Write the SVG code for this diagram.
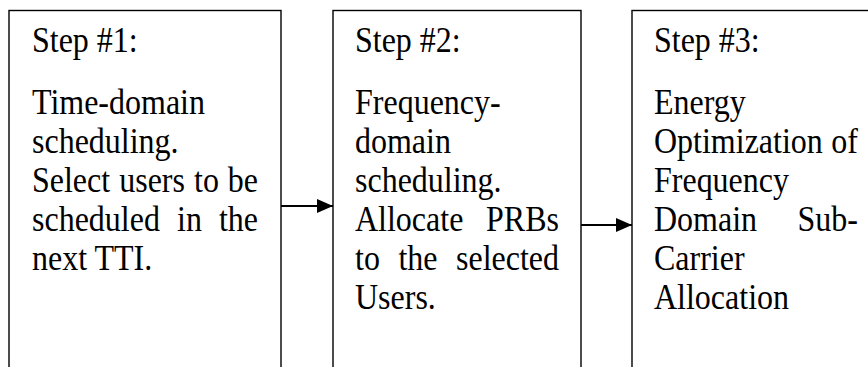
<svg xmlns="http://www.w3.org/2000/svg" width="868" height="367" viewBox="0 0 868 367">
  <style>
    .box { fill: #ffffff; stroke: #000000; stroke-width: 1.4; }
    .t { font-family: "Liberation Serif", "Times New Roman", serif; font-size: 32px; fill: #000000; }
    .e { text-anchor: end; }
    .m { text-anchor: middle; }
    .conn { stroke: #000000; stroke-width: 2; fill: none; }
  </style>
  <defs>
    <marker id="arrowhead" markerUnits="userSpaceOnUse" markerWidth="16" markerHeight="14" refX="16" refY="7" orient="auto">
      <path d="M0,0 L16,7 L0,14 Z" fill="#000000"/>
    </marker>
  </defs>
  <rect width="868" height="367" fill="#ffffff"/>

  <!-- Text is set slightly condensed-tall: y values are baselines divided by 1.1 -->

  <!-- Step 1: time-domain scheduling -->
  <g id="step1">
    <rect class="box" x="9" y="10.5" width="272" height="400"/>
    <g transform="scale(1,1.1)">
      <text class="t" x="32" y="47.27">Step #1:</text>
      <text class="t" x="32" y="103.64">Time-domain</text>
      <text class="t" x="32" y="139.09">scheduling.</text>
      <text class="t" x="32" y="174.55">Select</text>
      <text class="t" x="119.2" y="174.55">users</text>
      <text class="t" x="194" y="174.55">to</text>
      <text class="t e" x="258" y="174.55">be</text>
      <text class="t" x="32" y="210">scheduled</text>
      <text class="t m" x="189.5" y="210">in</text>
      <text class="t e" x="258" y="210">the</text>
      <text class="t" x="32" y="245.45">next TTI.</text>
    </g>
  </g>

  <!-- Step 2: frequency-domain scheduling -->
  <g id="step2">
    <rect class="box" x="333" y="10.5" width="248" height="400"/>
    <g transform="scale(1,1.1)">
      <text class="t" x="355" y="47.27">Step #2:</text>
      <text class="t" x="355" y="103.64">Frequency-</text>
      <text class="t" x="355" y="139.09">domain</text>
      <text class="t" x="355" y="174.55">scheduling.</text>
      <text class="t" x="355" y="210">Allocate</text>
      <text class="t e" x="559" y="210">PRBs</text>
      <text class="t" x="355" y="245.45">to</text>
      <text class="t m" x="418" y="245.45">the</text>
      <text class="t e" x="559" y="245.45">selected</text>
      <text class="t" x="355" y="280.91">Users.</text>
    </g>
  </g>

  <!-- Step 3: energy optimization -->
  <g id="step3">
    <rect class="box" x="632" y="10.5" width="300" height="400"/>
    <g transform="scale(1,1.1)">
      <text class="t" x="654" y="47.27">Step #3:</text>
      <text class="t" x="654" y="103.64">Energy</text>
      <text class="t" x="654" y="139.09">Optimization</text>
      <text class="t e" x="858" y="139.09">of</text>
      <text class="t" x="654" y="174.55">Frequency</text>
      <text class="t" x="654" y="210">Domain</text>
      <text class="t e" x="858" y="210">Sub-</text>
      <text class="t" x="654" y="245.45">Carrier</text>
      <text class="t" x="654" y="280.91">Allocation</text>
    </g>
  </g>

  <!-- connectors -->
  <g id="connectors">
    <line class="conn" x1="281" y1="206" x2="333" y2="206" marker-end="url(#arrowhead)"/>
    <line class="conn" x1="581" y1="225" x2="632" y2="225" marker-end="url(#arrowhead)"/>
  </g>
</svg>
